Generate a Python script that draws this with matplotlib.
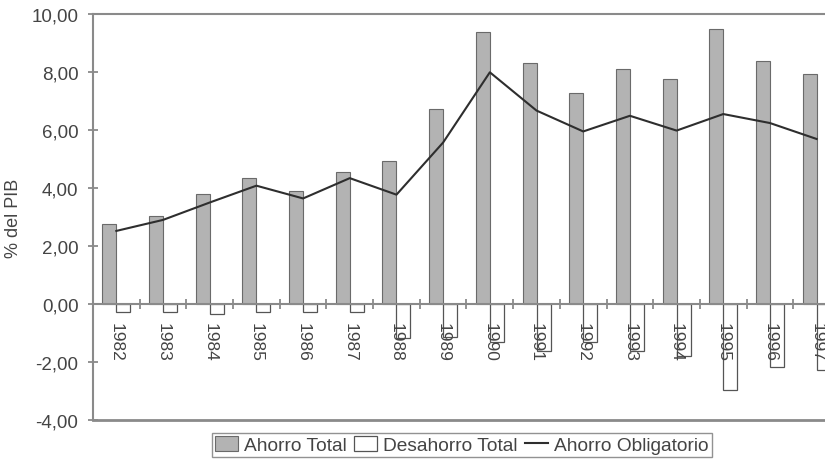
import numpy as np
import matplotlib
matplotlib.use("Agg")
import matplotlib.pyplot as plt
from matplotlib.patches import Patch
from matplotlib.lines import Line2D
from matplotlib.ticker import FixedLocator, FuncFormatter

plt.rcParams['font.family'] = ['Liberation Sans', 'DejaVu Sans']

years = [str(y) for y in range(1982, 1998)]
ahorro_total = [2.76, 3.05, 3.80, 4.33, 3.89, 4.56, 4.94, 6.72,
                9.39, 8.30, 7.28, 8.10, 7.75, 9.50, 8.39, 7.92]
desahorro_total = [-0.26, -0.26, -0.34, -0.26, -0.26, -0.26, -1.18, -1.15,
                   -1.32, -1.63, -1.32, -1.61, -1.80, -2.95, -2.17, -2.26]
ahorro_obligatorio = [2.52, 2.90, 3.50, 4.08, 3.64, 4.34, 3.77, 5.57,
                      7.99, 6.67, 5.95, 6.49, 5.98, 6.55, 6.24, 5.69]
y_ticks = [-4, -2, 0, 2, 4, 6, 8, 10]

txt = '#444444'
axc = '#8a8a8a'
fill = '#b3b3b3'

fig = plt.figure(figsize=(8.25, 4.64), dpi=100)
ax = fig.add_axes([93 / 825, 43 / 464, 747 / 825, 406 / 464])
ax.set_axisbelow(False)

x = np.arange(len(years))
w = 0.30
ax.bar(x - w / 2, ahorro_total, width=w, color=fill, edgecolor='#6a6a6a',
       linewidth=0.8, zorder=1.2)
ax.bar(x + w / 2, desahorro_total, width=w, color='white', edgecolor='#555555',
       linewidth=0.9, zorder=1.2)
ax.plot(x, ahorro_obligatorio, color='#2e2e2e', linewidth=1.5, zorder=3)

ax.set_xlim(-0.5, len(years) - 0.5)
ax.set_ylim(y_ticks[0], y_ticks[-1])

# frame: left value axis, top and bottom borders, category axis at zero
for s in ['left', 'top', 'bottom']:
    ax.spines[s].set_color(axc)
    ax.spines[s].set_linewidth(1.5)
ax.spines['right'].set_visible(False)
ax.spines['bottom'].set_position(('data', 0))
ax.axhline(y_ticks[0], color=axc, linewidth=2.0, clip_on=False, zorder=1)

ax.yaxis.set_major_locator(FixedLocator(y_ticks))
ax.yaxis.set_major_formatter(FuncFormatter(lambda v, p: f"{v:.2f}".replace('.', ',')))
ax.tick_params(axis='y', direction='inout', length=7, width=1.3, color=axc,
               labelsize=13.5, labelcolor=txt, pad=7)

# category boundaries as major ticks, year labels on minor ticks
ax.xaxis.set_major_locator(FixedLocator(x[:-1] + 0.5))
ax.xaxis.set_major_formatter(FuncFormatter(lambda v, p: ''))
ax.set_xticks(x, years, minor=True)
ax.tick_params(axis='x', which='major', direction='inout', length=7, width=1.3,
               color=axc, top=False)
ax.tick_params(axis='x', which='minor', length=0, labelsize=12.5,
               labelcolor=txt, pad=13, labelrotation=270, top=False)
for lbl in ax.get_xticklabels(minor=True):
    lbl.set_verticalalignment('top')
    lbl.set_horizontalalignment('center')

ax.set_ylabel('% del PIB', fontsize=13, color=txt)
ax.yaxis.set_label_coords(-0.095, 0.5)

handles = [
    Patch(facecolor=fill, edgecolor='#6a6a6a', linewidth=0.8),
    Patch(facecolor='white', edgecolor='#555555', linewidth=0.9),
    Line2D([0], [0], color='#2e2e2e', linewidth=1.5),
]
leg = fig.legend(handles, ['Ahorro Total', 'Desahorro Total', 'Ahorro Obligatorio'],
                 loc='center', bbox_to_anchor=(462 / 825, 18 / 464), ncol=3,
                 fontsize=13.8, frameon=True, fancybox=False,
                 handlelength=1.2, handleheight=0.8, handletextpad=0.3,
                 columnspacing=0.4, borderpad=0.15, borderaxespad=0)
leg.get_frame().set_edgecolor('#777777')
leg.get_frame().set_linewidth(1.0)
for t in leg.get_texts():
    t.set_color(txt)

fig.savefig('out.png', dpi=100)
